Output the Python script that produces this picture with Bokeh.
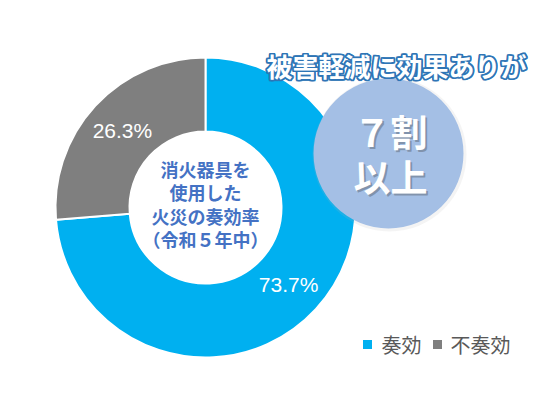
import numpy as np
from bokeh.plotting import figure
from bokeh.models import Range1d, ColumnDataSource
from bokeh.core.properties import value
from bokeh.embed import file_html
from bokeh.resources import INLINE

# ---- data ----
categories = ["奏効", "不奏効"]
values = [73.7, 26.3]
colors = ["#00b0f0", "#7f7f7f"]
pct_labels = ["73.7%", "26.3%"]
center_lines = ["消火器具を", "使用した", "火災の奏効率", "（令和５年中）"]
headline = "被害軽減に効果ありが"
bubble_lines = ["７割", "以上"]

W, H = 539, 380
DX, DY = 8, -8  # page margin compensation
p = figure(width=W, height=H, x_range=Range1d(0, W), y_range=Range1d(0, H),
           output_backend="svg", toolbar_location=None, min_border=0)
p.axis.visible = False
p.grid.visible = False
p.outline_line_color = None
p.background_fill_color = "white"

cx, cy = 197 + DX, 181 + DY
R_out, R_in = 150, 76

vals = np.array(values)
frac = vals / vals.sum()
cum = np.concatenate([[0], np.cumsum(frac)])
start = np.pi / 2 - 2 * np.pi * cum[:-1]
end = np.pi / 2 - 2 * np.pi * cum[1:]
mid = (start + end) / 2
r_mid = (R_in + R_out) / 2

src = ColumnDataSource(dict(x=[cx] * len(vals), y=[cy] * len(vals), start=start, end=end,
                            color=colors, cat=categories,
                            lx=cx + r_mid * np.cos(mid), ly=cy + r_mid * np.sin(mid),
                            lab=pct_labels))
p.annular_wedge(x="x", y="y", inner_radius=R_in, outer_radius=R_out,
                start_angle="start", end_angle="end", direction="clock",
                fill_color="color", line_color="white", line_width=2, source=src)

p.text(x="lx", y="ly", text="lab", source=src, text_color="white",
       text_font=value("Liberation Sans"), text_font_size="21px",
       text_align="center", text_baseline="middle")

# center text
ys = [y + DY for y in [220, 197, 173, 150]]
p.text(x=[cx] * 4, y=ys, text=center_lines, text_color="#4472c4",
       text_font=value("Noto Sans CJK JP"), text_font_size="18px", text_font_style="bold",
       text_align="center", text_baseline="middle")

# bubble
bx, by, br = 380 + DX, 235 + DY, 75
p.circle(x=[bx + 1], y=[by - 1], radius=br + 2, fill_color="#b8b8b8", fill_alpha=0.15, line_color=None)
p.circle(x=[bx], y=[by], radius=br, fill_color="#a4bfe5", line_color=None)
p.text(x=[bx + 4, bx + 4], y=[258 + DY - 2, 213 + DY - 2], text=bubble_lines, text_color="#404040",
       text_alpha=0.35,
       text_font=value("Noto Sans CJK JP"), text_font_size="37px", text_font_style="bold",
       text_align="center", text_baseline="middle")
p.text(x=[bx + 2, bx + 2], y=[258 + DY, 213 + DY], text=bubble_lines, text_color="white",
       text_font=value("Noto Sans CJK JP"), text_font_size="37px", text_font_style="bold",
       text_align="center", text_baseline="middle")

# headline (white with blue outline)
hx, hy = 388 + DX, 323 + DY
offs = [(-1.2, 0), (1.2, 0), (0, -1.2), (0, 1.2), (-0.9, -0.9), (0.9, 0.9), (-0.9, 0.9), (0.9, -0.9)]
p.text(x=[hx + o[0] for o in offs], y=[hy + o[1] for o in offs], text=[headline] * len(offs),
       text_color="#2e75b6", text_outline_color="#2e75b6",
       text_font=value("Noto Sans CJK JP"), text_font_size="26px", text_font_style="bold",
       text_align="center", text_baseline="middle")
p.text(x=[hx], y=[hy], text=[headline], text_color="white",
       text_font=value("Noto Sans CJK JP"), text_font_size="26px", text_font_style="bold",
       text_align="center", text_baseline="middle")

# legend
leg_sq_x = [359 + DX, 429 + DX]
leg_tx = [373 + DX, 442 + DX]
p.rect(x=leg_sq_x, y=[44 + DY, 44 + DY], width=9, height=9, fill_color=colors, line_color=None)
p.text(x=leg_tx, y=[44 + DY, 44 + DY], text=categories, text_color="#595959",
       text_font=value("Noto Sans CJK JP"), text_font_size="20px",
       text_align="left", text_baseline="middle")

open("out.html", "w").write(file_html(p, INLINE))
